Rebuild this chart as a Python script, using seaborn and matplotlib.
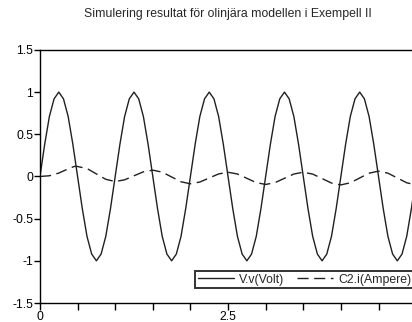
import matplotlib
matplotlib.use("Agg")
import matplotlib.pyplot as plt
import seaborn as sns
import pandas as pd

# --- data ---
t_v = [0.0, 0.0625, 0.125, 0.1875, 0.25, 0.3125, 0.375, 0.4375,
       0.5, 0.5625, 0.625, 0.6875, 0.75, 0.8125, 0.875, 0.9375,
       1.0, 1.0625, 1.125, 1.1875, 1.25, 1.3125, 1.375, 1.4375,
       1.5, 1.5625, 1.625, 1.6875, 1.75, 1.8125, 1.875, 1.9375,
       2.0, 2.0625, 2.125, 2.1875, 2.25, 2.3125, 2.375, 2.4375,
       2.5, 2.5625, 2.625, 2.6875, 2.75, 2.8125, 2.875, 2.9375,
       3.0, 3.0625, 3.125, 3.1875, 3.25, 3.3125, 3.375, 3.4375,
       3.5, 3.5625, 3.625, 3.6875, 3.75, 3.8125, 3.875, 3.9375,
       4.0, 4.0625, 4.125, 4.1875, 4.25, 4.3125, 4.375, 4.4375,
       4.5, 4.5625, 4.625, 4.6875, 4.75, 4.8125, 4.875, 4.9375,
       5.0]
v_volt = [0.0, 0.38, 0.71, 0.92, 1.0, 0.92, 0.71, 0.38,
          0.0, -0.38, -0.71, -0.92, -1.0, -0.92, -0.71, -0.38,
          0.0, 0.38, 0.71, 0.92, 1.0, 0.92, 0.71, 0.38,
          0.0, -0.38, -0.71, -0.92, -1.0, -0.92, -0.71, -0.38,
          0.0, 0.38, 0.71, 0.92, 1.0, 0.92, 0.71, 0.38,
          0.0, -0.38, -0.71, -0.92, -1.0, -0.92, -0.71, -0.38,
          0.0, 0.38, 0.71, 0.92, 1.0, 0.92, 0.71, 0.38,
          0.0, -0.38, -0.71, -0.92, -1.0, -0.92, -0.71, -0.38,
          0.0, 0.38, 0.71, 0.92, 1.0, 0.92, 0.71, 0.38,
          0.0, -0.38, -0.71, -0.92, -1.0, -0.92, -0.71, -0.38,
          0.0]

t_i = [0.0, 0.125, 0.25, 0.375, 0.46, 0.5, 0.625, 0.75, 0.875,
       1.0, 1.125, 1.25, 1.375, 1.5, 1.625, 1.75, 1.875,
       2.0, 2.125, 2.25, 2.375, 2.5, 2.625, 2.75, 2.875,
       3.0, 3.125, 3.25, 3.375, 3.5, 3.625, 3.75, 3.875,
       4.0, 4.125, 4.25, 4.375, 4.5, 4.625, 4.75, 4.875, 5.0]
i_ampere = [0.0, 0.008, 0.04, 0.09, 0.12, 0.118, 0.094, 0.03, -0.034,
            -0.06, -0.04, 0.008, 0.055, 0.075, 0.051, -0.006, -0.063,
            -0.087, -0.066, -0.018, 0.03, 0.05, 0.029, -0.022, -0.073,
            -0.095, -0.073, -0.022, 0.029, 0.05, 0.028, -0.025, -0.078,
            -0.10, -0.075, -0.018, 0.039, 0.063, 0.039, -0.018, -0.075, -0.10]

series_names = ["V.v(Volt)", "C2.i(Ampere)"]
title = "Simulering resultat för olinjära modellen i Exempell II"

df = pd.concat([
    pd.DataFrame({"t": t_v, "value": v_volt, "series": series_names[0]}),
    pd.DataFrame({"t": t_i, "value": i_ampere, "series": series_names[1]}),
])

sns.set_style("ticks")
plt.rcParams["font.family"] = ["Liberation Sans", "DejaVu Sans"]

fig = plt.figure(figsize=(4.12, 3.22), dpi=100)
ax = fig.add_axes([0.097, 0.059, 0.913, 0.786])

sns.lineplot(data=df, x="t", y="value", hue="series", style="series",
             palette={series_names[0]: "#202020", series_names[1]: "#202020"},
             dashes={series_names[0]: "", series_names[1]: (8, 4)},
             linewidth=1.0, ax=ax, sort=False, estimator=None)

ax.set_xlim(0, 5)
ax.set_ylim(-1.5, 1.5)
ax.set_xticks([0, 2.5, 5])
ax.set_xticklabels(["0", "2.5", "5"])
ax.set_xticks([0.5, 1, 1.5, 2, 3, 3.5, 4, 4.5], minor=True)
ax.set_yticks([-1.5, -1, -0.5, 0, 0.5, 1, 1.5])
ax.set_yticklabels(["-1.5", "-1", "-0.5", "0", "0.5", "1", "1.5"])
ax.tick_params(axis="both", which="both", direction="out", length=4,
               width=1, colors="black", labelsize=8.8, pad=1)
ax.tick_params(axis="x", which="both", length=5)
for s in ax.spines.values():
    s.set_color("black")
    s.set_linewidth(1)
ax.set_xlabel("")
ax.set_ylabel("")

ax.set_title(title, fontsize=8.8, pad=24, x=0.5)

leg = ax.legend(loc="lower right", ncol=2, fontsize=8.8, frameon=True,
                fancybox=False, shadow=False, handlelength=3.0,
                borderpad=0.2, columnspacing=1.0, handletextpad=0.4,
                bbox_to_anchor=(1.01, 0.035))
leg.get_frame().set_edgecolor("black")
leg.get_frame().set_linewidth(1.4)

fig.savefig("out.png", dpi=100)
